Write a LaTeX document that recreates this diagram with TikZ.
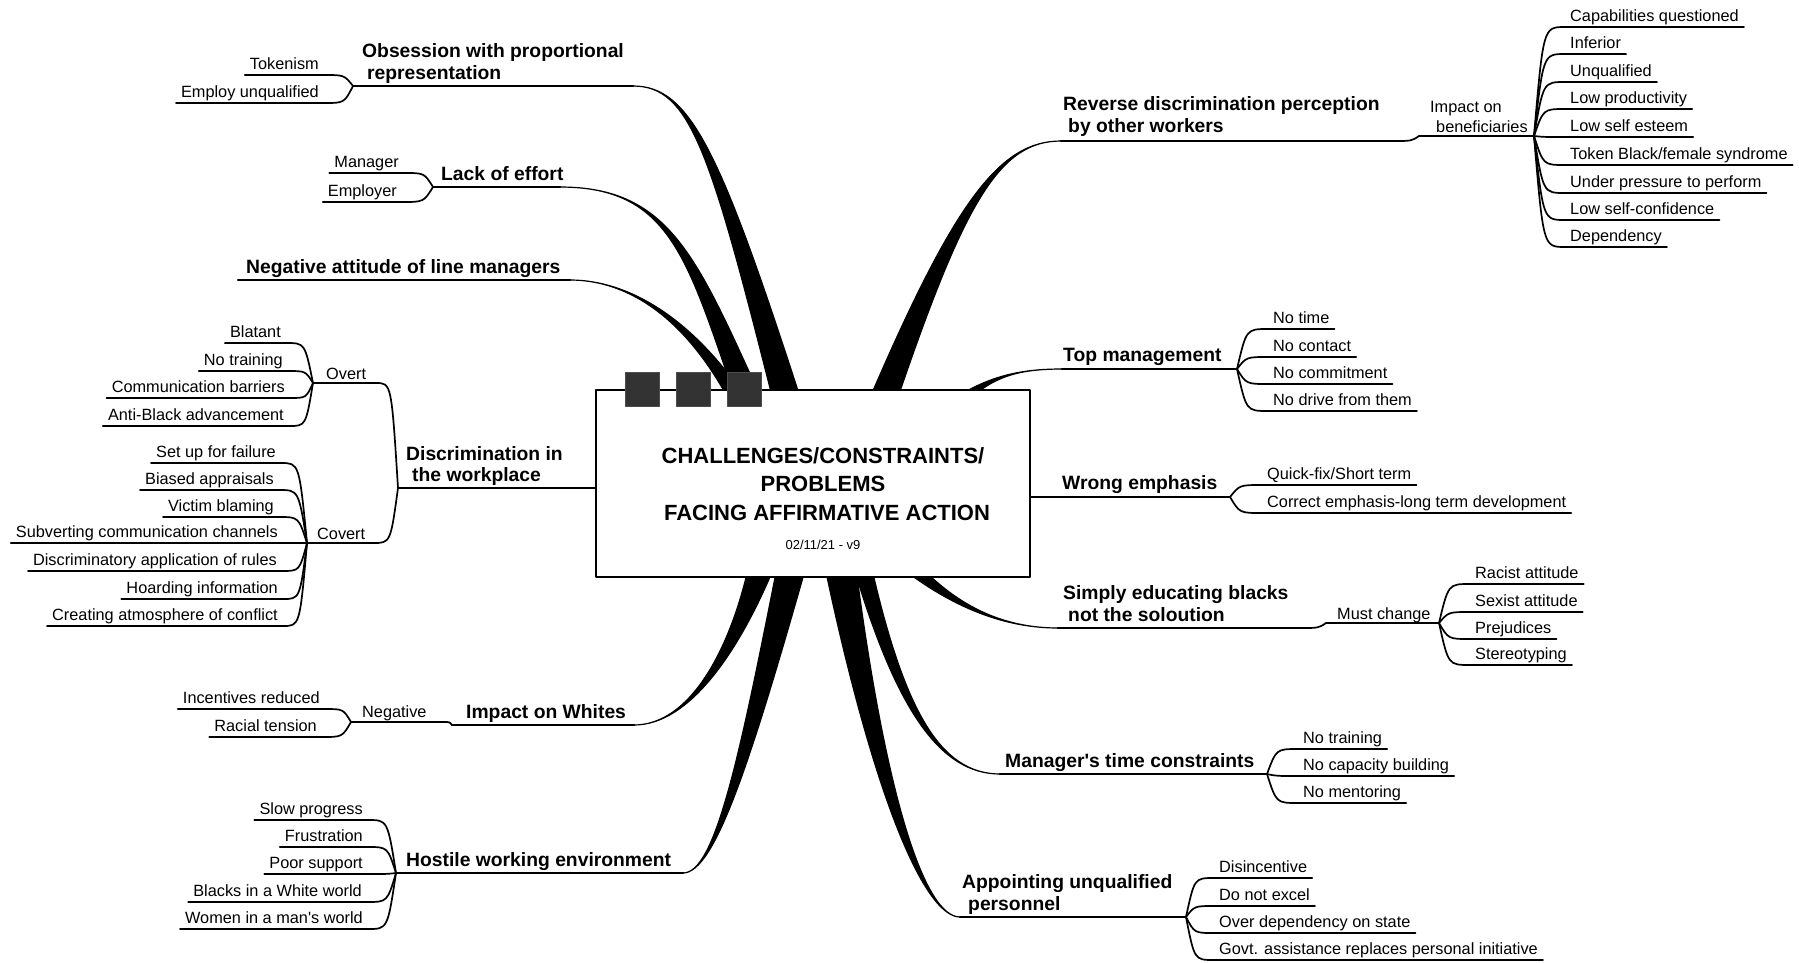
\documentclass[tikz,border=0pt]{standalone}
\usepackage{fontspec}
\setmainfont{Liberation Sans}
\usetikzlibrary{calc}
\newcommand\lfnt{\fontsize{16.3}{19}\selectfont}
\newcommand\mfnt{\fontsize{19.3}{22}\selectfont\bfseries}
\newcommand\tfnt{\fontsize{22}{28}\selectfont\bfseries}
\newcommand\dfnt{\fontsize{13}{15}\selectfont}
\newcommand\taper[6]{\filldraw[taperfill] (#1) .. controls (#2) and ($(#3)+(-#5,0)$) .. ($(#4)+(-#6,0)$) -- ($(#4)+(#6,0)$) .. controls ($(#3)+(#5,0)$) and (#2) .. (#1) -- cycle;}
\begin{document}
\begin{tikzpicture}[x=1pt,y=-1pt,line cap=round,line join=round,
  leafL/.style={font=\lfnt,inner xsep=5pt,inner ysep=0pt,text height=12pt,text depth=5pt,anchor=south east},
  leafR/.style={leafL,anchor=south west},
  mainlbl/.style={font=\mfnt,inner sep=0pt,anchor=base west},
  sublbl/.style={font=\lfnt,inner sep=0pt,anchor=base west},
  leafln/.style={line width=1.7pt},
  mainln/.style={line width=2.2pt},
  br/.style={to path={let \p1=(\tikztostart), \p2=(\tikztotarget) in .. controls ({\x1+0.7*(\x2-\x1)},\y1) .. (\tikztotarget)}},
  taperfill/.style={fill=black,draw=black,line width=1.2pt},
  sq/.style={draw=black!70,fill=black!80,line width=0.8pt,minimum size=34pt,inner sep=0pt}]
\useasboundingbox (0,0) rectangle (1799,962);
\fill[white] (0,0) rectangle (1799,962);

% fork and end coordinates
\coordinate (obsF) at (353,86);   \coordinate (obsE) at (633,86);
\coordinate (lackF) at (433,187); \coordinate (lackE) at (560,187);
\coordinate (negS) at (238,280);  \coordinate (negE) at (570,280);
\coordinate (overtF) at (313,383); \coordinate (overtE) at (376,383);
\coordinate (covertF) at (307,543); \coordinate (covertE) at (373,543);
\coordinate (discF) at (398,488);
\coordinate (negvF) at (351,722); \coordinate (negvE) at (444,722);
\coordinate (whitF) at (452,725); \coordinate (whitE) at (634,725);
\coordinate (hostF) at (396,873); \coordinate (hostE) at (683,873);
\coordinate (revS) at (1061,141); \coordinate (revE) at (1394,141);
\coordinate (impS) at (1419,136); \coordinate (impF) at (1534,136);
\coordinate (topS) at (1062,369); \coordinate (topF) at (1237,369);
\coordinate (wrongF) at (1230,497);
\coordinate (simpS) at (1058,628); \coordinate (simpE) at (1301,628);
\coordinate (mustS) at (1326,623); \coordinate (mustF) at (1439,623);
\coordinate (mgrS) at (1000,774); \coordinate (mgrF) at (1267,774);
\coordinate (appS) at (960,917);  \coordinate (appF) at (1186,917);

% thick tapered branches
\taper{obsE}{690,86}{715,150}{787,400}{5}{14}
\taper{lackE}{670,187}{692,258}{749,400}{5}{13}
\taper{negE}{630,280}{690,320}{738,400}{4}{9}
\taper{revS}{1000,141}{960,200}{883,400}{5}{14}
\taper{topS}{1020,369}{990,376}{958,402}{3}{9}
\taper{simpS}{1005,628}{955,608}{905,562}{4}{11}
\taper{whitE}{690,725}{735,650}{762,565}{5}{13}
\taper{hostE}{715,873}{745,760}{792,565}{6}{14.5}
\taper{appS}{925,917}{880,800}{840,565}{6}{15.5}
\taper{mgrS}{940,774}{900,710}{862,565}{4}{9}

% central box
\node[draw,fill=white,line width=1.3pt,minimum width=434pt,minimum height=187pt,inner sep=0pt] (box) at (813,483.5) {};
\node[sq] (sq1) at (642.5,389) {};
\node[sq] (sq2) at (693.5,389) {};
\node[sq] (sq3) at (744.5,389) {};
\node[font=\tfnt,inner sep=0pt,anchor=base] (t1) at (823,463) {CHALLENGES/CONSTRAINTS/};
\node[font=\tfnt,inner sep=0pt,anchor=base] (t2) at (823,491.5) {PROBLEMS};
\node[font=\tfnt,inner sep=0pt,anchor=base] (t3) at (827,520) {FACING AFFIRMATIVE ACTION};
\node[font=\dfnt,inner sep=0pt,anchor=base] (dt) at (823,549) {02/11/21 - v9};

\draw[line width=2.6pt] (discF) -- (box.west |- discF);
\draw[line width=2.6pt] (box.east |- wrongF) -- (wrongF);

% main labels
\node[mainlbl] (obs1) at (362,57) {Obsession with proportional};
\node[mainlbl] (obs2) at (367,79) {representation};
\node[mainlbl] (lack) at (441,180) {Lack of effort};
\node[mainlbl] (nega) at (246,273) {Negative attitude of line managers};
\node[mainlbl] (disc1) at (406,460) {Discrimination in};
\node[mainlbl] (disc2) at (412,481) {the workplace};
\node[mainlbl] (whit) at (466,718) {Impact on Whites};
\node[mainlbl] (host) at (406,866) {Hostile working environment};
\node[mainlbl] (rev1) at (1063,110) {Reverse discrimination perception};
\node[mainlbl] (rev2) at (1068,132) {by other workers};
\node[mainlbl] (topm) at (1063,361) {Top management};
\node[mainlbl] (wron) at (1062,489) {Wrong emphasis};
\node[mainlbl] (simp1) at (1063,599) {Simply educating blacks};
\node[mainlbl] (simp2) at (1068,621) {not the soloution};
\node[mainlbl] (mgrt) at (1005,767) {Manager\textquotesingle s time constraints};
\node[mainlbl] (app1) at (962,888) {Appointing unqualified};
\node[mainlbl] (app2) at (968,910) {personnel};

% sub labels
\node[sublbl] (overt) at (326,379) {Overt};
\node[sublbl] (covert) at (317,539) {Covert};
\node[sublbl] (negv) at (362,717) {Negative};
\node[sublbl] (imp1) at (1430,112) {Impact on};
\node[sublbl] (imp2) at (1436,132) {beneficiaries};
\node[sublbl] (must) at (1337,619) {Must change};

% main underlines
\draw[mainln] (obsF) -- (obsE);
\draw[mainln] (lackF) -- (lackE);
\draw[mainln] (negS) -- (negE);
\draw[mainln] (whitF) -- (whitE);
\draw[mainln] (hostF) -- (hostE);
\draw[mainln] (revS) -- (revE);
\draw[mainln] (topS) -- (topF);
\draw[mainln] (simpS) -- (simpE);
\draw[mainln] (mgrS) -- (mgrF);
\draw[mainln] (appS) -- (appF);
\draw[leafln] (overtF) -- (overtE) to[br] (discF);
\draw[leafln] (covertF) -- (covertE) to[br] (discF);
\draw[leafln] (negvF) -- (negvE) to[br] (whitF);
\draw[leafln] (revE) to[br] (impS) -- (impF);
\draw[leafln] (simpE) to[br] (mustS) -- (mustF);

% left leaves
\foreach \nm/\tx/\xx/\yy/\f in {
  tok/{Tokenism}/324/75/obsF, empu/{Employ unqualified}/324/103/obsF,
  mgrl/{Manager}/404/173/lackF, empl/{Employer}/402/202/lackF,
  bla/{Blatant}/286/343/overtF, notr/{No training}/288/371/overtF,
  comm/{Communication barriers}/290/398/overtF, anti/{Anti-Black advancement}/289/426/overtF,
  setu/{Set up for failure}/281/463/covertF, bias/{Biased appraisals}/279/490/covertF,
  vict/{Victim blaming}/279/517/covertF, subv/{Subverting communication channels}/283/543/covertF,
  disr/{Discriminatory application of rules}/282/571/covertF, hoar/{Hoarding information}/283/599/covertF,
  crea/{Creating atmosphere of conflict}/283/626/covertF,
  ince/{Incentives reduced}/325/709/negvF, raci/{Racial tension}/322/737/negvF,
  slow/{Slow progress}/368/820/hostF, frus/{Frustration}/368/847/hostF,
  poor/{Poor support}/368/874/hostF, blak/{Blacks in a White world}/367/902/hostF,
  wome/{Women in a man\textquotesingle s world}/368/929/hostF}
{ \node[leafL] (\nm) at (\xx,\yy) {\tx};
  \draw[leafln] (\nm.south west) -- (\nm.south east) to[br] (\f); }

% right leaves
\foreach \nm/\tx/\xx/\yy/\f in {
  capq/{Capabilities questioned}/1565/27/impF, infe/{Inferior}/1565/54/impF,
  unqu/{Unqualified}/1565/82/impF, lowp/{Low productivity}/1565/109/impF,
  lows/{Low self esteem}/1565/137/impF, tokb/{Token Black/female syndrome}/1565/165/impF,
  undp/{Under pressure to perform}/1565/193/impF, lowc/{Low self-confidence}/1565/220/impF,
  depe/{Dependency}/1565/247/impF,
  ntim/{No time}/1268/329/topF, ncon/{No contact}/1268/357/topF,
  ncom/{No commitment}/1268/384/topF, ndri/{No drive from them}/1268/411/topF,
  quic/{Quick-fix/Short term}/1262/485/wrongF, corr/{Correct emphasis-long term development}/1262/513/wrongF,
  rcat/{Racist attitude}/1470/584/mustF, sexa/{Sexist attitude}/1470/612/mustF,
  prej/{Prejudices}/1470/639/mustF, ster/{Stereotyping}/1470/665/mustF,
  ntra/{No training}/1298/749/mgrF, ncap/{No capacity building}/1298/776/mgrF,
  nmen/{No mentoring}/1298/803/mgrF,
  disi/{Disincentive}/1214/878/appF, dnex/{Do not excel}/1214/906/appF,
  ovdp/{Over dependency on state}/1214/933/appF, govt/{Govt. assistance replaces personal initiative}/1214/960/appF}
{ \node[leafR] (\nm) at (\xx,\yy) {\tx};
  \draw[leafln] (\nm.south east) -- (\nm.south west) to[br] (\f); }
\end{tikzpicture}
\end{document}
